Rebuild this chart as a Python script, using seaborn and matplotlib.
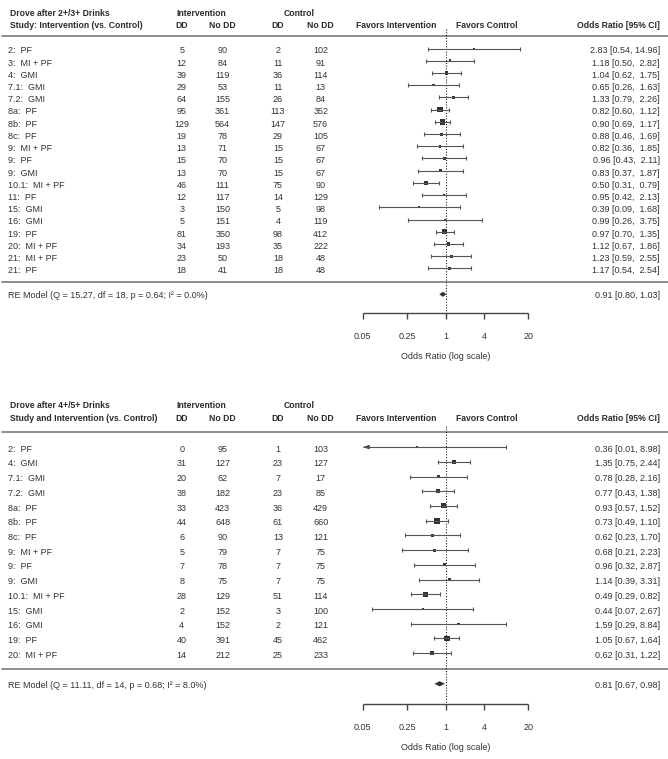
import numpy as np
import pandas as pd
import seaborn as sns
import matplotlib.pyplot as plt
from matplotlib import transforms

# Drove after 2+/3+ drinks
top_labels = ['2:  PF', '3:  MI + PF', '4:  GMI', '7.1:  GMI', '7.2:  GMI', '8a:  PF', '8b:  PF',
              '8c:  PF', '9:  MI + PF', '9:  PF', '9:  GMI', '10.1:  MI + PF', '11:  PF', '15:  GMI',
              '16:  GMI', '19:  PF', '20:  MI + PF', '21:  MI + PF', '21:  PF']
top_int_dd = [5, 12, 39, 29, 64, 95, 129, 19, 13, 15, 13, 46, 12, 3, 5, 81, 34, 23, 18]
top_int_nodd = [90, 84, 119, 53, 155, 361, 564, 78, 71, 70, 70, 111, 117, 150, 151, 350, 193, 50, 41]
top_ctl_dd = [2, 11, 36, 11, 26, 113, 147, 29, 15, 15, 15, 75, 14, 5, 4, 98, 35, 18, 18]
top_ctl_nodd = [102, 91, 114, 13, 84, 352, 576, 105, 67, 67, 67, 90, 129, 98, 119, 412, 222, 48, 48]
top_or = [2.83, 1.18, 1.04, 0.65, 1.33, 0.82, 0.90, 0.88, 0.82, 0.96, 0.83, 0.50, 0.95, 0.39, 0.99,
          0.97, 1.12, 1.23, 1.17]
top_lo = [0.54, 0.50, 0.62, 0.26, 0.79, 0.60, 0.69, 0.46, 0.36, 0.43, 0.37, 0.31, 0.42, 0.09, 0.26,
          0.70, 0.67, 0.59, 0.54]
top_hi = [14.96, 2.82, 1.75, 1.63, 2.26, 1.12, 1.17, 1.69, 1.85, 2.11, 1.87, 0.79, 2.13, 1.68, 3.75,
          1.35, 1.86, 2.55, 2.54]
top_re = [0.91, 0.80, 1.03]
top_re_text = 'RE Model (Q = 15.27, df = 18, p = 0.64; I² = 0.0%)'

# Drove after 4+/5+ drinks
bot_labels = ['2:  PF', '4:  GMI', '7.1:  GMI', '7.2:  GMI', '8a:  PF', '8b:  PF', '8c:  PF',
              '9:  MI + PF', '9:  PF', '9:  GMI', '10.1:  MI + PF', '15:  GMI', '16:  GMI', '19:  PF',
              '20:  MI + PF']
bot_int_dd = [0, 31, 20, 38, 33, 44, 6, 5, 7, 8, 28, 2, 4, 40, 14]
bot_int_nodd = [95, 127, 62, 182, 423, 648, 90, 79, 78, 75, 129, 152, 152, 391, 212]
bot_ctl_dd = [1, 23, 7, 23, 36, 61, 13, 7, 7, 7, 51, 3, 2, 45, 25]
bot_ctl_nodd = [103, 127, 17, 85, 429, 660, 121, 75, 75, 75, 114, 100, 121, 462, 233]
bot_or = [0.36, 1.35, 0.78, 0.77, 0.93, 0.73, 0.62, 0.68, 0.96, 1.14, 0.49, 0.44, 1.59, 1.05, 0.62]
bot_lo = [0.01, 0.75, 0.28, 0.43, 0.57, 0.49, 0.23, 0.21, 0.32, 0.39, 0.29, 0.07, 0.29, 0.67, 0.31]
bot_hi = [8.98, 2.44, 2.16, 1.38, 1.52, 1.10, 1.70, 2.23, 2.87, 3.31, 0.82, 2.67, 8.84, 1.64, 1.22]
bot_re = [0.81, 0.67, 0.98]
bot_re_text = 'RE Model (Q = 11.11, df = 14, p = 0.68; I² = 8.0%)'

ticks = [0.05, 0.25, 1, 4, 20]
tick_labels = ['0.05', '0.25', '1', '4', '20']

W, H = 668, 759
X1 = 445.5      # pixel position of OR = 1
PX_LN = 27.66   # pixels per unit of ln(OR)

sns.set_theme(style='white')
plt.rcParams['font.family'] = ['Liberation Sans', 'DejaVu Sans']

TXT = '#333333'
FS = 6.5
FS_B = 6.2

fig = plt.figure(figsize=(W / 100, H / 100), dpi=100)
ax = fig.add_axes([0, 0, 1, 1])
ax.set_xscale('log')
ax.set_xlim(np.exp(-X1 / PX_LN), np.exp((W - X1) / PX_LN))
ax.set_ylim(H, 0)
ax.axis('off')
tx = transforms.blended_transform_factory(fig.transFigure, ax.transData)


def put(px, y, s, ha='center', bold=False):
    ax.text(px / W, y, s, transform=tx, ha=ha, va='center', fontsize=FS_B if bold else FS,
            color='#2a2a2a' if bold else TXT, fontweight='bold' if bold else 'normal')


def panel(labels, idd, ind, cdd, cnd, est, lo, hi, re, re_text, title, subtitle, g):
    df = pd.DataFrame({'label': labels, 'idd': idd, 'ind': ind, 'cdd': cdd, 'cnd': cnd,
                       'est': est, 'lo': lo, 'hi': hi})
    df['row'] = g['first'] + np.arange(len(df)) * g['step']
    se = (np.log(df['hi']) - np.log(df['lo'])) / 3.92
    prec = 1 / se
    df['cex'] = 0.5 + (prec - prec.min()) / (prec.max() - prec.min())
    df['cex2'] = df['cex'] ** 2
    xmin = ticks[0]

    # header
    put(10, g['head1'], title, ha='left', bold=True)
    put(10, g['head2'], subtitle, ha='left', bold=True)
    put(201.7, g['head1'], 'Intervention', bold=True)
    put(299, g['head1'], 'Control', bold=True)
    for px, s in [(181.7, 'DD'), (222.7, 'No DD'), (278, 'DD'), (320.7, 'No DD')]:
        put(px, g['head2'], s, bold=True)
    put(395.7, g['head2'], 'Favors Intervention', bold=True)
    put(486.7, g['head2'], 'Favors Control', bold=True)
    put(660, g['head2'], 'Odds Ratio [95% CI]', ha='right', bold=True)

    # rules
    for yy in [g['hline'], g['botline']]:
        ax.plot([2 / W, 1], [yy, yy], transform=tx, color='#7a7a7a', lw=1.2)

    # reference line at OR = 1
    ax.vlines(1, g['dot_top'], g['axis'], color='#222222', lw=0.8, linestyle=(0, (1, 1.5)))

    # study rows
    width = max(len(f'{h:.2f}') for h in df['hi'])
    cap = 2.0
    for _, r in df.iterrows():
        yt = r['row'] + g['toff']
        put(8.3, yt, r['label'], ha='left')
        put(181.7, yt, str(r['idd']))
        put(222.7, yt, str(r['ind']))
        put(278, yt, str(r['cdd']))
        put(320.7, yt, str(r['cnd']))
        put(660, yt, f"{r['est']:.2f} [{r['lo']:.2f}, {r['hi']:>{width}.2f}]", ha='right')

        left = max(r['lo'], xmin)
        ax.hlines(r['row'], left, r['hi'], color='#555555', lw=0.8)
        ax.vlines(r['hi'], r['row'] - cap, r['row'] + cap, color='#555555', lw=0.8)
        if r['lo'] >= xmin:
            ax.vlines(r['lo'], r['row'] - cap, r['row'] + cap, color='#555555', lw=0.8)
        else:
            base = xmin * np.exp(7 / PX_LN)
            ax.fill([xmin, base, base], [r['row'], r['row'] - 2.2, r['row'] + 2.2],
                    color='#333333', lw=0)

    sns.scatterplot(data=df, x='est', y='row', size='cex2', sizes=(1.8, 17.0), marker='s',
                    color='#333333', linewidth=0, legend=False, ax=ax)

    # summary
    put(8.3, g['re'] + 1.2, re_text, ha='left')
    put(660, g['re'] + 1.2, f'{re[0]:.2f} [{re[1]:.2f}, {re[2]:.2f}]', ha='right')
    ax.fill([re[1], re[0], re[2], re[0]], [g['re'], g['re'] - 2.6, g['re'], g['re'] + 2.6],
            color='#333333', lw=0)

    # axis
    ax.hlines(g['axis'], ticks[0], ticks[-1], color='#444444', lw=1.0)
    ax.vlines(ticks, g['axis'], g['axis'] + 6, color='#444444', lw=1.0)
    for t, s in zip(ticks, tick_labels):
        ax.text(t, g['axis'] + 23.3, s, ha='center', va='center', fontsize=FS, color=TXT)
    ax.text(1, g['axis'] + 43.3, 'Odds Ratio (log scale)', ha='center', va='center',
            fontsize=FS, color=TXT)


top_geo = dict(head1=14, head2=26, hline=35.7, first=48.5, step=12.22, toff=2.3,
               botline=281.7, re=294.3, axis=313, dot_top=29)
bot_geo = dict(head1=405, head2=418.6, hline=432.3, first=447.1, step=14.72, toff=2.1,
               botline=669.3, re=683.8, axis=704.3, dot_top=426)

panel(top_labels, top_int_dd, top_int_nodd, top_ctl_dd, top_ctl_nodd, top_or, top_lo, top_hi,
      top_re, top_re_text, 'Drove after 2+/3+ Drinks', 'Study: Intervention (vs. Control)', top_geo)
panel(bot_labels, bot_int_dd, bot_int_nodd, bot_ctl_dd, bot_ctl_nodd, bot_or, bot_lo, bot_hi,
      bot_re, bot_re_text, 'Drove after 4+/5+ Drinks', 'Study and Intervention (vs. Control)',
      bot_geo)

fig.savefig('out.png', dpi=100, facecolor='white')
